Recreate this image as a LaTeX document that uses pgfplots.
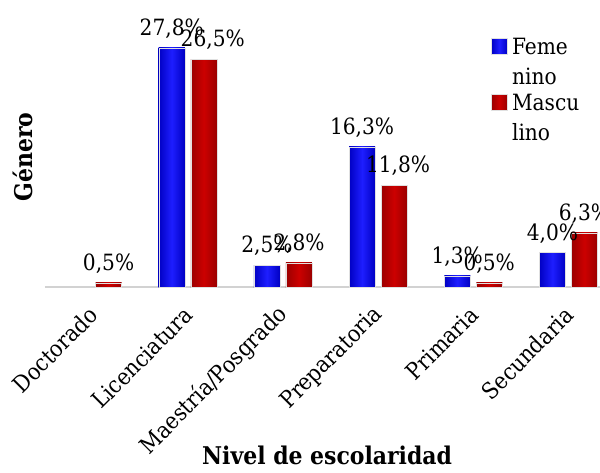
\documentclass[border=0pt]{standalone}
\usepackage{pgfplots}
\pgfplotsset{compat=1.18}
\usepackage{fontspec}
\setmainfont{DejaVu Serif Condensed}
\definecolor{fblue}{RGB}{30,30,255}
\definecolor{fblueedge}{RGB}{0,0,195}
\definecolor{mred}{RGB}{204,0,0}
\definecolor{mrededge}{RGB}{155,0,0}
% each bar is its own plot so that the side shading is applied bar by bar
\pgfplotsset{
  fem/.style={bar shift=-16bp, draw=black!12, line width=0.4pt,
    left color=fblueedge, right color=fblueedge, middle color=fblue},
  mas/.style={bar shift=16bp, draw=black!12, line width=0.4pt,
    left color=mrededge, right color=mrededge, middle color=mred},
}
\begin{document}
\begin{tikzpicture}[font=\fontsize{22}{27}\selectfont]
\begin{axis}[
  at={(0,0)}, anchor=south west,
  scale only axis, width=571bp, height=258bp,
  xmin=-0.5, xmax=5.5, ymin=0, ymax=30,
  clip=false,
  ybar, bar width=26bp,
  axis x line=bottom, axis y line=left,
  x axis line style={draw=gray!35, line width=1.2pt, -},
  y axis line style={draw=none},
  ytick=\empty,
  xtick={0,...,5},
  xticklabels={Doctorado,Licenciatura,Maestría/Posgrado,Preparatoria,Primaria,Secundaria},
  major tick length=0pt,
  x tick label style={xshift=1bp, yshift=-24bp, rotate=45, anchor=east, inner sep=0pt,
    font=\fontsize{23}{27}\selectfont},
  xlabel={\bfseries Nivel de escolaridad},
  ylabel={\bfseries Género},
  every axis x label/.style={at={(rel axis cs:0.494,0)}, yshift=-168bp, anchor=center,
    font=\fontsize{24.5}{28}\selectfont},
  every axis y label/.style={at={(rel axis cs:0,0.504)}, xshift=-22bp, rotate=90, anchor=center,
    font=\fontsize{24.5}{28}\selectfont},
  nodes near coords={\pgfmathprintnumber[fixed,fixed zerofill,precision=1,use comma,assume math mode=true]{\pgfplotspointmeta}\%},
  every node near coord/.append style={text=black, anchor=south, yshift=6bp,
    font=\fontsize{22.5}{27}\selectfont},
  legend style={at={(rel axis cs:0.781,0.966)}, anchor=north west, draw=none, fill=none,
    inner sep=0pt, row sep=37bp, column sep=4bp,
    nodes={inner sep=0.5bp, text width=90bp, align=left, font=\fontsize{22.5}{30}\selectfont}},
  legend cell align=left,
  legend image code/.code={\path[#1] (0bp,-7bp) rectangle (16bp,9bp);},
]
% Femenino
\addplot[fem] coordinates {(1,27.8)};
\addlegendentry{Feme\\nino}
% Masculino
\addplot[mas] coordinates {(0,0.5)};
\addlegendentry{Mascu\\lino}
\addplot[mas, forget plot, every node near coord/.append style={xshift=9bp}] coordinates {(1,26.5)};
\addplot[fem, forget plot] coordinates {(2,2.5)};
\addplot[mas, forget plot] coordinates {(2,2.8)};
\addplot[fem, forget plot] coordinates {(3,16.3)};
\addplot[mas, forget plot, every node near coord/.append style={xshift=4bp}] coordinates {(3,11.8)};
\addplot[fem, forget plot] coordinates {(4,1.3)};
\addplot[mas, forget plot] coordinates {(4,0.5)};
\addplot[fem, forget plot] coordinates {(5,4.0)};
\addplot[mas, forget plot] coordinates {(5,6.3)};
\end{axis}
\pgfresetboundingbox
\path[use as bounding box] (-45bp,-186bp) rectangle (555bp,287bp);
\end{tikzpicture}
\end{document}
